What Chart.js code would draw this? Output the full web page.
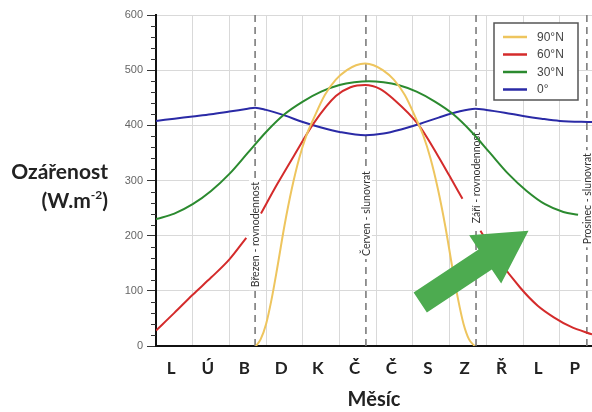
<!DOCTYPE html>
<html><head><meta charset="utf-8">
<script src="https://cdn.jsdelivr.net/npm/chart.js@4/dist/chart.umd.min.js"></script>
<style>
html,body{margin:0;padding:0;background:#fff;}
#wrap{position:relative;width:592px;height:412px;overflow:hidden;}
canvas{position:absolute;left:0;top:0;}
.yt{position:absolute;right:484px;font:bold 21px Lato, sans-serif;line-height:25px;color:#222;white-space:nowrap;text-align:right;}
.yt sup{font-size:12px;line-height:0;position:relative;top:-1px;}
</style></head><body>
<div id="wrap"><canvas id="c" width="592" height="412"></canvas>
<div class="yt" style="top:158px">Ozářenost</div>
<div class="yt" style="top:187px">(W.m<sup>-2</sup>)</div>
</div>
<script>
// ---- data ----
const monthLabels = ['L','Ú','B','D','K','Č','Č','S','Z','Ř','L','P'];
const seriesNames = ['90°N','60°N','30°N','0°'];

const months90 = [2.72,2.85,3.0,3.15,3.3,3.5,3.7,3.9,4.1,4.3,4.6,4.9,5.2,5.45,5.7,5.93,6.18,6.48,6.78,7.08,7.28,7.48,7.68,7.88,8.08,8.23,8.38,8.53,8.68];
const values90 = [0,12,40,85,140,218,285,340,382,413,455,483,500,509,512,509,500,483,455,413,382,340,285,218,140,85,40,12,0];

const months60 = [0,0.5,1,1.5,2,2.46,2.66,2.86,3.3,3.76,4.3,4.9,5.3,5.7,6.1,6.46,7.14,7.68,8.0,8.35,8.6,8.84,9.3,9.92,10.4,10.84,11.3,11.88];
const values60 = [28,60,93,124,157,196,null,240,293,345,404,453,469,473,466,448,402,345,308,267,null,209,160,106,73,52,35,21];

const months30 = [0,0.5,1,1.5,2,2.5,3,3.5,4,4.5,5,5.4,5.8,6.2,6.6,7.1,7.6,8.1,8.6,9.1,9.6,10.1,10.6,11.1,11.5];
const values30 = [230,240,257,281,312,350,388,420,443,461,473,478,480,478,473,461,443,420,388,350,312,281,257,243,238];

const months0 = [0,0.5,1,1.5,2,2.5,2.7,3,3.5,4,4.5,5,5.7,6.2,6.7,7.2,7.7,8.2,8.7,9,9.5,10,10.5,11,11.88];
const values0 = [408,412,416,420,425,430,432,428,418,406,396,388,382,385,393,403,414,424,430,428,423,417,412,408,406];

const eventMonths = [2.7,5.72,8.72,11.74];
const eventNames = ['Březen - rovnodennost','Červen - slunovrat','Září - rovnodennost','Prosinec - slunovrat'];

const colors = ['#eec55e','#d42b2b','#2b8a2f','#2a2aa6'];

function pts(xs, ys){ return xs.map((m,i)=>({x:m, y:ys[i]})); }

const overlay = {
  id: 'overlay',
  beforeDatasetsDraw(chart, args, opts) {
    const {ctx, chartArea, scales:{x,y}} = chart;
    ctx.save();
    ctx.strokeStyle = '#333'; ctx.lineWidth = 1;
    y.ticks.forEach(t => {
      if (t.value % 100 !== 0) {
        const py = Math.round(y.getPixelForValue(t.value)) + 0.5;
        ctx.beginPath(); ctx.moveTo(chartArea.left - 5, py); ctx.lineTo(chartArea.left, py); ctx.stroke();
      }
    });
    eventMonths.forEach((m, i) => {
      const px = x.getPixelForValue(m);
      ctx.setLineDash([7,5]); ctx.strokeStyle = '#7c7c7c'; ctx.lineWidth = 1.6;
      ctx.beginPath(); ctx.moveTo(px, y.getPixelForValue(0)); ctx.lineTo(px, y.getPixelForValue(600)); ctx.stroke();
      ctx.setLineDash([]);
      ctx.font = '10.5px Lato, sans-serif';
      const w = ctx.measureText(eventNames[i]).width;
      const cy = y.getPixelForValue(opts.labelValues[i]);
      ctx.fillStyle = '#fff';
      ctx.fillRect(px - 6, cy - w/2 - 3, 12, w + 6);
      ctx.save();
      ctx.translate(px, cy); ctx.rotate(-Math.PI/2);
      ctx.fillStyle = '#333'; ctx.textAlign = 'center'; ctx.textBaseline = 'middle';
      ctx.fillText(eventNames[i], 0, 0.5);
      ctx.restore();
    });
    ctx.restore();
  },
  afterDraw(chart, args, opts) {
    const {ctx, chartArea, scales:{x,y}} = chart;
    ctx.save();
    // arrow
    const tx = x.getPixelForValue(opts.arrowFrom[0]), ty = y.getPixelForValue(opts.arrowFrom[1]);
    const hx = x.getPixelForValue(opts.arrowTo[0]), hy = y.getPixelForValue(opts.arrowTo[1]);
    const dx = hx - tx, dy = hy - ty, len = Math.hypot(dx, dy);
    const ux = dx/len, uy = dy/len, nx = -uy, ny = ux;
    const sw = 24, hw = 58, hl = 52;
    const bx = hx - ux*hl, by = hy - uy*hl;
    ctx.fillStyle = '#4dab50';
    ctx.beginPath();
    ctx.moveTo(tx + nx*sw/2, ty + ny*sw/2);
    ctx.lineTo(bx + nx*sw/2, by + ny*sw/2);
    ctx.lineTo(bx + nx*hw/2, by + ny*hw/2);
    ctx.lineTo(hx, hy);
    ctx.lineTo(bx - nx*hw/2, by - ny*hw/2);
    ctx.lineTo(bx - nx*sw/2, by - ny*sw/2);
    ctx.lineTo(tx - nx*sw/2, ty - ny*sw/2);
    ctx.closePath(); ctx.fill();
    // legend
    const lw = 84, lh = 77;
    const lx = chartArea.right - 14 - lw, ly = chartArea.top + 8;
    ctx.fillStyle = '#fff'; ctx.fillRect(lx, ly, lw, lh);
    ctx.strokeStyle = '#555'; ctx.lineWidth = 1.5; ctx.strokeRect(lx, ly, lw, lh);
    ctx.font = '12px "Liberation Sans", Arial, sans-serif';
    ctx.textBaseline = 'middle'; ctx.textAlign = 'left';
    chart.data.datasets.forEach((ds, i) => {
      const ry = ly + 14 + i*17.5;
      ctx.strokeStyle = ds.borderColor; ctx.lineWidth = 2.5;
      ctx.beginPath(); ctx.moveTo(lx + 9, ry); ctx.lineTo(lx + 33, ry); ctx.stroke();
      ctx.fillStyle = '#444';
      ctx.fillText(ds.label, lx + 43, ry + 0.5);
    });
    ctx.restore();
  }
};

new Chart(document.getElementById('c'), {
  type: 'line',
  data: {
    datasets: [
      {label: seriesNames[0], data: pts(months90, values90), borderColor: colors[0]},
      {label: seriesNames[1], data: pts(months60, values60), borderColor: colors[1]},
      {label: seriesNames[2], data: pts(months30, values30), borderColor: colors[2]},
      {label: seriesNames[3], data: pts(months0, values0), borderColor: colors[3]}
    ]
  },
  options: {
    responsive: false,
    animation: false,
    devicePixelRatio: 1,
    spanGaps: false,
    elements: {
      line: {borderWidth: 2, cubicInterpolationMode: 'monotone', fill: false},
      point: {radius: 0, hoverRadius: 0}
    },
    layout: {padding: {left: 116, right: 0, top: 15, bottom: 0}},
    events: [],
    scales: {
      x: {
        type: 'linear', min: 0, max: 11.88,
        afterBuildTicks: s => { s.ticks = []; for (let i = 0; i < 12; i++) { s.ticks.push({value: i}); s.ticks.push({value: i + 0.41}); } },
        afterFit: s => { s.height = 66; s.paddingLeft = 0; s.paddingRight = 0; },
        grid: {color: c => Number.isInteger(c.tick.value) ? '#d9d9d9' : 'rgba(0,0,0,0)', lineWidth: 1, drawTicks: false},
        border: {color: '#111', width: 2},
        ticks: {autoSkip: false, maxRotation: 0, padding: 12, color: '#222',
          font: {family: 'Lato', weight: 'bold', size: 17},
          callback: v => Number.isInteger(v) ? '' : monthLabels[Math.floor(v)]},
        title: {display: true, text: 'Měsíc', color: '#222',
          font: {family: 'Lato', weight: 'bold', size: 20, lineHeight: 1.2}, padding: {top: 0, bottom: 0}}
      },
      y: {
        min: 0, max: 600,
        afterBuildTicks: s => { s.ticks = []; for (let v = 0; v <= 600; v += 20) s.ticks.push({value: v}); },
        afterFit: s => { s.width = 40; },
        grid: {
          color: c => (c.tick.value % 100 === 0 && c.tick.value > 0) ? '#d9d9d9' : 'rgba(0,0,0,0)',
          tickColor: c => c.tick.value % 100 === 0 ? '#333' : 'rgba(0,0,0,0)',
          tickLength: 9, lineWidth: 1
        },
        border: {color: '#111', width: 2},
        ticks: {autoSkip: false, padding: 4, color: '#666',
          font: {family: 'Liberation Sans', size: 11},
          callback: v => v % 100 === 0 ? String(v) : ''}
      }
    },
    plugins: {
      legend: {display: false},
      tooltip: {enabled: false},
      overlay: {labelValues: [202, 240, 305, 267], arrowFrom: [7.2, 79], arrowTo: [10.15, 209]}
    }
  },
  plugins: [overlay]
});
</script>
</body></html>
